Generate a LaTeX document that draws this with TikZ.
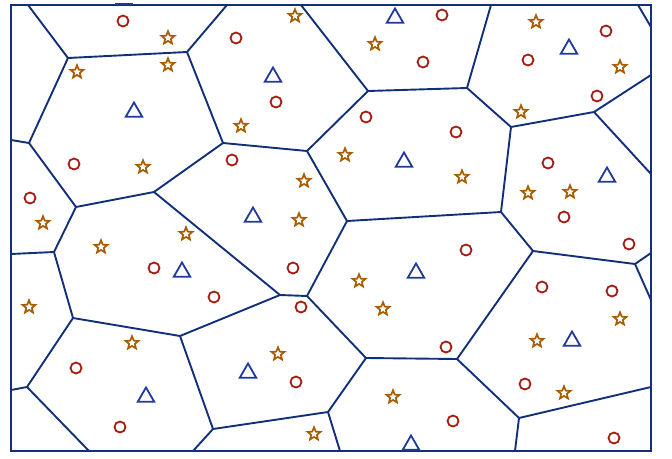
\documentclass[tikz,border=0pt]{standalone}
\usetikzlibrary{shapes.geometric}
\definecolor{edgec}{HTML}{12307A}
\definecolor{circc}{HTML}{A51D12}
\definecolor{starc}{HTML}{A85D00}
\definecolor{tric}{HTML}{1F3A9A}
\tikzset{
  vedge/.style={draw=edgec, line width=1.9pt},
  frame/.style={draw=edgec, line width=2.2pt},
  circmark/.style={circle, draw=circc, line width=1.8pt, minimum size=11pt, inner sep=0pt},
  starmark/.style={star, star points=5, star point ratio=2.3, draw=starc, line width=1.7pt, minimum size=13.5pt, inner sep=0pt},
  trimark/.style={regular polygon, regular polygon sides=3, draw=tric, line width=1.8pt, minimum size=19pt, inner sep=0pt},
}
\begin{document}
\begin{tikzpicture}[x=1pt,y=-1pt]
\useasboundingbox (0,0) rectangle (672,458);
% frame
\coordinate (fTL) at (11,5);
\coordinate (fBR) at (651,451);
% Voronoi vertices
\coordinate (A) at (68,58);
\coordinate (B) at (187,52);
\coordinate (C) at (29,143);
\coordinate (D) at (223,143);
\coordinate (E) at (76,207);
\coordinate (F) at (154,192);
\coordinate (G) at (280,295);
\coordinate (H) at (307,296);
\coordinate (I) at (54,252);
\coordinate (J) at (73,318);
\coordinate (K) at (180,336);
\coordinate (L) at (27,387);
\coordinate (M) at (213,429);
\coordinate (N) at (328,412);
\coordinate (O) at (366,358);
\coordinate (P) at (457,359);
\coordinate (Q) at (533,251);
\coordinate (R) at (519,418);
\coordinate (S) at (635,264);
\coordinate (T) at (501,212);
\coordinate (U) at (347,221);
\coordinate (V) at (307,151);
\coordinate (W) at (368,91);
\coordinate (X) at (467,88);
\coordinate (Y) at (511,127);
\coordinate (Z) at (594,112);
% boundary ends
\coordinate (b1) at (28,5);
\coordinate (b2) at (227,5);
\coordinate (b3) at (11,140);
\coordinate (b4) at (11,254);
\coordinate (b5) at (11,390);
\coordinate (b6) at (89,451);
\coordinate (b7) at (193,451);
\coordinate (b8) at (340,451);
\coordinate (b9) at (515,451);
\coordinate (b10) at (651,387);
\coordinate (b11) at (651,253);
\coordinate (b12) at (651,300);
\coordinate (b13) at (651,174);
\coordinate (b14) at (651,75);
\coordinate (b15) at (491,5);
\coordinate (b16) at (301,5);
\coordinate (b17) at (638,5);
\coordinate (b18) at (651,27);
\coordinate (tp1) at (115,4);
\coordinate (tp2) at (133,4);
% edges
\draw[vedge] (b1) -- (A) -- (B) -- (b2);
\draw[vedge] (b3) -- (C) -- (A);
\draw[vedge] (B) -- (D) -- (F) -- (E) -- (C);
\draw[vedge] (F) -- (G) -- (H);
\draw[vedge] (b4) -- (I) -- (E);
\draw[vedge] (I) -- (J) -- (K) -- (G);
\draw[vedge] (b5) -- (L) -- (J);
\draw[vedge] (L) -- (b6);
\draw[vedge] (K) -- (M) -- (b7);
\draw[vedge] (M) -- (N) -- (b8);
\draw[vedge] (N) -- (O) -- (H);
\draw[vedge] (O) -- (P) -- (Q);
\draw[vedge] (P) -- (R) -- (b9);
\draw[vedge] (R) -- (b10);
\draw[vedge] (Q) -- (S) -- (b11);
\draw[vedge] (S) -- (b12);
\draw[vedge] (Q) -- (T) -- (U) -- (H);
\draw[vedge] (U) -- (V) -- (D);
\draw[vedge] (V) -- (W) -- (b16);
\draw[vedge] (W) -- (X) -- (b15);
\draw[vedge] (X) -- (Y) -- (Z) -- (b14);
\draw[vedge] (Z) -- (b13);
\draw[vedge] (Y) -- (T);
\draw[vedge] (b17) -- (b18);
\draw[frame] (fTL) rectangle (fBR);
\draw[draw=tric, line width=2.6pt] (tp1) -- (tp2);
% circles
\foreach \n/\x/\y in {1/123/21, 2/236/38, 3/276/102, 4/366/117, 5/232/160, 6/442/15, 7/423/62, 8/528/60, 9/606/31, 10/597/96, 11/456/132, 12/548/163, 13/564/217, 14/629/244, 15/466/250, 16/612/291, 17/542/287, 18/293/268, 19/301/307, 20/214/297, 21/154/268, 22/74/164, 23/30/198, 24/76/368, 25/120/427, 26/296/382, 27/446/347, 28/453/421, 29/525/384, 30/614/438}
  \node[circmark] (c\n) at (\x,\y) {};
% stars
\foreach \n/\x/\y in {1/168/38, 2/168/65, 3/77/72, 4/295/16, 5/375/44, 6/241/126, 7/536/22, 8/620/67, 9/521/112, 10/143/167, 11/345/155, 12/304/181, 13/299/220, 14/462/177, 15/528/193, 16/570/192, 17/43/223, 18/101/247, 19/186/234, 20/29/307, 21/359/281, 22/383/309, 23/132/343, 24/278/354, 25/393/397, 26/314/434, 27/537/341, 28/620/319, 29/564/393}
  \node[starmark] (s\n) at (\x,\y) {};
% triangles
\foreach \n/\x/\y in {1/134/112, 2/273/77, 3/395/18, 4/569/49, 5/404/162, 6/607/177, 7/253/217, 8/182/272, 9/416/273, 10/572/341, 11/146/397, 12/248/373, 13/411/445}
  \node[trimark] (t\n) at (\x,\y) {};
\end{tikzpicture}
\end{document}
